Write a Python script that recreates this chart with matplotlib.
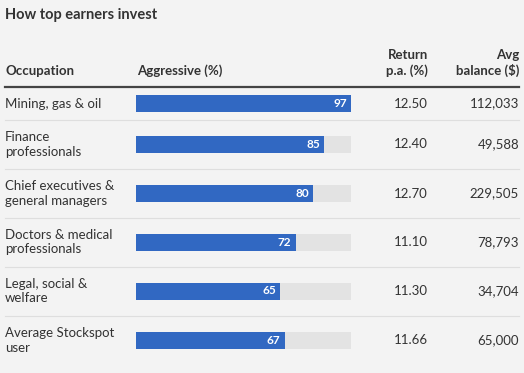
import matplotlib.pyplot as plt

# Data
occupations = ['Mining, gas & oil', 'Finance\nprofessionals', 'Chief executives &\ngeneral managers',
               'Doctors & medical\nprofessionals', 'Legal, social &\nwelfare', 'Average Stockspot\nuser']
aggressive = [97, 85, 80, 72, 65, 67]
returns = ['12.50', '12.40', '12.70', '11.10', '11.30', '11.66']
balances = ['112,033', '49,588', '229,505', '78,793', '34,704', '65,000']

# Layout (pixels)
W, H = 524, 373
row_y = [103.5, 144.5, 193.5, 242, 291, 340.5]
sep_y = [120, 169, 218, 267, 316]
bar_left, bar_right = 136, 351

bg = '#f3f3f3'
blue = '#3168c2'
track = '#e3e3e3'
txt = '#333333'

plt.rcParams['font.family'] = ['Lato', 'DejaVu Sans']

fig = plt.figure(figsize=(W / 100, H / 100), dpi=100, facecolor=bg)
ax = fig.add_axes([0, 0, 1, 1])
ax.set_xlim(0, W)
ax.set_ylim(H, 0)
ax.axis('off')

ax.text(5, 15, 'How top earners invest', fontsize=10.5, fontweight='bold', color=txt, va='center')

# Header
ax.text(5, 71, 'Occupation', fontsize=9.5, fontweight='bold', color=txt, va='center')
ax.text(137, 71, 'Aggressive (%)', fontsize=9.5, fontweight='bold', color=txt, va='center')
ax.text(428, 63, 'Return\np.a. (%)', fontsize=9.5, fontweight='bold', color=txt, va='center',
        ha='right', linespacing=1.3)
ax.text(519, 63, 'Avg\nbalance ($)', fontsize=9.5, fontweight='bold', color=txt, va='center',
        ha='right', linespacing=1.3)
ax.plot([5, 519], [87, 87], color='#444444', lw=1.6)
for y in sep_y:
    ax.plot([5, 519], [y, y], color='#dedede', lw=0.8)

for i, y in enumerate(row_y):
    ax.text(5, y, occupations[i], fontsize=9.5, color=txt, va='center', linespacing=1.25)
    ax.text(428, y, returns[i], fontsize=9.5, color=txt, va='center', ha='right')
    ax.text(519, y, balances[i], fontsize=9.5, color=txt, va='center', ha='right')

# Bars
bx = fig.add_axes([bar_left / W, 0, (bar_right - bar_left) / W, 1])
bx.set_xlim(0, max(aggressive))
bx.set_ylim(H, 0)
bx.axis('off')
bx.patch.set_alpha(0)
bx.barh(row_y, [max(aggressive)] * len(aggressive), height=17, color=track)
bx.barh(row_y, aggressive, height=17, color=blue)
for y, v in zip(row_y, aggressive):
    bx.annotate(str(v), (v, y), xytext=(-3, 0), textcoords='offset points', ha='right', va='center',
                color='white', fontsize=8.5, fontweight='bold')

fig.savefig('out.png', dpi=100, facecolor=bg)
